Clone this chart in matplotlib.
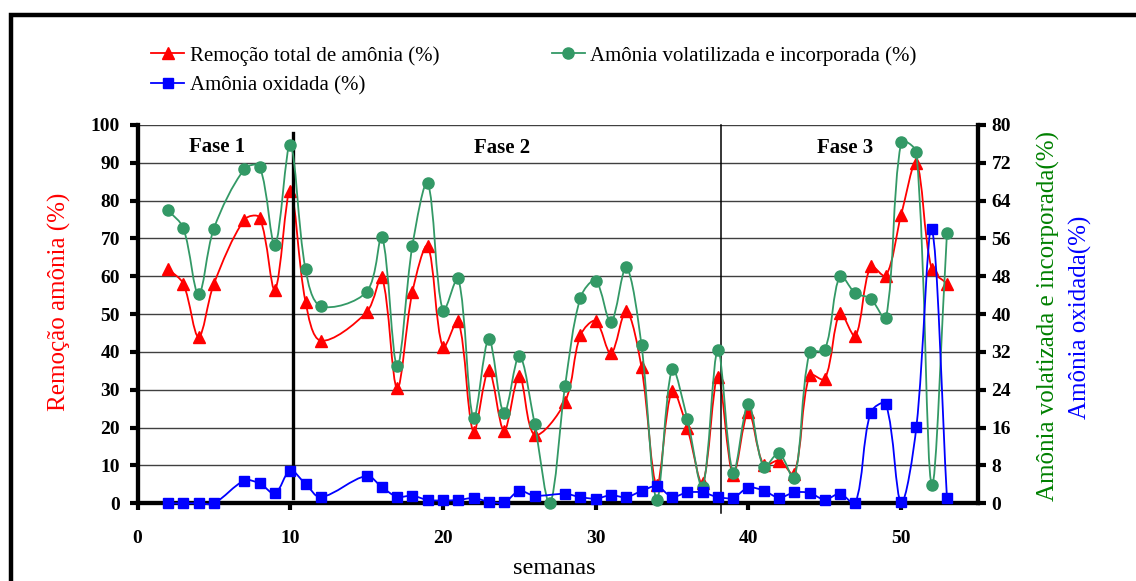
import numpy as np
import matplotlib
matplotlib.use("Agg")
import matplotlib.pyplot as plt
from matplotlib.path import Path
from matplotlib.patches import PathPatch, Rectangle
from matplotlib.lines import Line2D

plt.rcParams['font.family'] = ['Liberation Serif', 'DejaVu Serif']

# dados (semanas)
semanas = [2, 3, 4, 5, 7, 8, 9, 10, 11, 12, 15, 16, 17, 18, 19, 20, 21, 22, 23, 24,
           25, 26, 27, 28, 29, 30, 31, 32, 33, 34, 35, 36, 37, 38, 39, 40, 41, 42, 43,
           44, 45, 46, 47, 48, 49, 50, 51, 52, 53]
nan = np.nan
remocao = [62, 58, 44, 58, 75, 75.5, 56.5, 82.6, 53.3, 43, 50.5, 59.7, 30.4, 55.9, 68,
           41.2, 48.2, 18.9, 35.2, 19.2, 33.7, 18.1, nan, 26.9, 44.4, 48.2, 39.6, 50.9,
           35.9, 4.8, 29.7, 19.8, 5.3, 33.5, 7.6, 24.2, 10.1, 11.3, 7.7, 33.9, 32.8,
           50.2, 44.2, 62.6, 60.1, 76.2, 90, 61.9, 58.1]
volatilizada = [62, 58.2, 44.2, 58.1, 70.7, 71.2, 54.7, 75.8, 49.5, 41.7, 44.7, 56.4,
                29.1, 54.5, 67.7, 40.7, 47.6, 18.0, 34.7, 19.1, 31.2, 16.8, 0, 24.9,
                43.5, 47.1, 38.3, 49.9, 33.4, 0.8, 28.3, 17.8, 3.5, 32.4, 6.5, 21.1,
                7.7, 10.6, 5.3, 31.9, 32.4, 48.1, 44.4, 43.3, 39.1, 76.3, 74.2, 3.9, 57.1]
oxidada = [0, 0, 0, 0, 4.8, 4.2, 2.1, 6.9, 4.1, 1.3, 5.8, 3.4, 1.4, 1.6, 0.7, 0.6, 0.7,
           1.1, 0.35, 0.2, 2.6, 1.6, nan, 2.0, 1.3, 1.0, 1.7, 1.3, 2.6, 3.6, 1.4, 2.3,
           2.3, 1.3, 1.2, 3.3, 2.7, 1.2, 2.3, 2.2, 0.8, 2.0, 0, 19.2, 21.0, 0.2, 16.2,
           58.0, 1.1]

leg_labels = ['Remoção total de amônia (%)', 'Amônia oxidada (%)',
              'Amônia volatilizada e incorporada (%)']
fases = ['Fase 1', 'Fase 2', 'Fase 3']


def curva_suave(ax, x, y, cor, lw=1.3):
    # linha suavizada tipo Excel (bezier calculada em pixels)
    x = np.asarray(x, float)
    y = np.asarray(y, float)
    ok = ~np.isnan(y)
    pts = np.column_stack([x[ok], y[ok]])
    tr = ax.transData
    p = tr.transform(pts)
    n = len(p)
    verts = [p[0]]
    codes = [Path.MOVETO]
    for i in range(n - 1):
        p0 = p[i - 1] if i > 0 else p[i]
        p3 = p[i + 2] if i + 2 < n else p[i + 1]
        d0 = np.hypot(*(p[i] - p0))
        d1 = np.hypot(*(p[i + 1] - p[i]))
        d2 = np.hypot(*(p3 - p[i + 1]))
        f1 = d1 / (d0 + d1) if d0 + d1 > 0 else 0
        f2 = d1 / (d1 + d2) if d1 + d2 > 0 else 0
        c1 = p[i] + (p[i + 1] - p0) * f1 / 3.0
        c2 = p[i + 1] - (p3 - p[i]) * f2 / 3.0
        verts += [c1, c2, p[i + 1]]
        codes += [Path.CURVE4] * 3
    verts = tr.inverted().transform(np.array(verts))
    ax.add_patch(PathPatch(Path(verts, codes), fill=False, edgecolor=cor,
                           lw=lw, clip_on=False, zorder=3))


fig = plt.figure(figsize=(11.36, 5.81), dpi=100)
W, H = 1136, 581
ax = fig.add_axes([137.5 / W, 1 - 503.3 / H, (977.5 - 137.5) / W, (503.3 - 125) / H])
ax2 = ax.twinx()

vermelho = '#FF0000'
verde = '#339966'
azul = '#0000FF'

ax.set_xlim(0, 55)
ax.set_ylim(0, 100)
ax2.set_ylim(0, 80)

curva_suave(ax, semanas, remocao, vermelho)
ax.plot(semanas, remocao, ls='none', marker='^', ms=9, color=vermelho,
        clip_on=False, zorder=4)

curva_suave(ax2, semanas, volatilizada, verde)
ax2.plot(semanas, volatilizada, ls='none', marker='o', ms=8, color=verde,
         clip_on=False, zorder=4)
curva_suave(ax2, semanas, oxidada, azul)
ax2.plot(semanas, oxidada, ls='none', marker='s', ms=7.5, color=azul,
         clip_on=False, zorder=5)

ax.set_xticks(range(0, 51, 10))
ax.set_yticks(range(0, 101, 10))
ax2.set_yticks(range(0, 81, 8))
ax.yaxis.grid(True, color='#404040', lw=1.0)
ax.set_axisbelow(True)

for a in (ax, ax2):
    for s in a.spines.values():
        s.set_linewidth(3)
    a.spines['top'].set_visible(False)
    a.tick_params(direction='out', width=3, length=6, labelsize=14)
    for t in a.get_xticklabels() + a.get_yticklabels():
        t.set_fontweight('bold')
ax.tick_params(axis='x', length=5, pad=14)
ax.tick_params(axis='y', pad=6.5)
ax2.tick_params(axis='y', pad=4)

# divisões das fases
ax.plot([10.15, 10.15], [1.4, 98], color='black', lw=2.4, zorder=6)
ax.plot([38.2, 38.2], [-2.6, 100], color='black', lw=1.1, clip_on=False, zorder=6)
ax.text(5.2, 94.2, fases[0], ha='center', va='center', fontsize=15, fontweight='bold')
ax.text(23.9, 93.8, fases[1], ha='center', va='center', fontsize=15, fontweight='bold')
ax.text(46.3, 93.8, fases[2], ha='center', va='center', fontsize=15, fontweight='bold')

# rótulos dos eixos
fig.text(59 / W, 1 - 302 / H, 'Remoção amônia (%)', rotation=90, color=vermelho,
         ha='center', va='center', fontsize=18)
fig.text(1048 / W, 1 - 316 / H, 'Amônia volatizada e incorporada(%)', rotation=90,
         color='#008000', ha='center', va='center', fontsize=18)
fig.text(1080 / W, 1 - 317 / H, 'Amônia oxidada(%)', rotation=90, color=azul,
         ha='center', va='center', fontsize=18)
fig.text(554 / W, 1 - 568 / H, 'semanas', ha='center', va='center', fontsize=17.5)

# legenda
hs = [Line2D([], [], color=vermelho, marker='^', ms=9, lw=1.3),
      Line2D([], [], color=azul, marker='s', ms=7.5, lw=1.3),
      Line2D([], [], color=verde, marker='o', ms=8, lw=1.3)]
fig.legend(hs, leg_labels, ncol=2, loc='upper left', bbox_to_anchor=(151 / W, 1 - 46 / H),
           frameon=False, fontsize=15, borderpad=0, borderaxespad=0,
           handlelength=1.6, handletextpad=0.25, labelspacing=0.48, columnspacing=5.4)

# moldura
fig.patches.append(Rectangle((10.5 / W, -0.1), 1.2, 1 - 15.3 / H + 0.1,
                             transform=fig.transFigure, fill=False, lw=3.2,
                             edgecolor='black'))

fig.savefig('out.png', dpi=100)
